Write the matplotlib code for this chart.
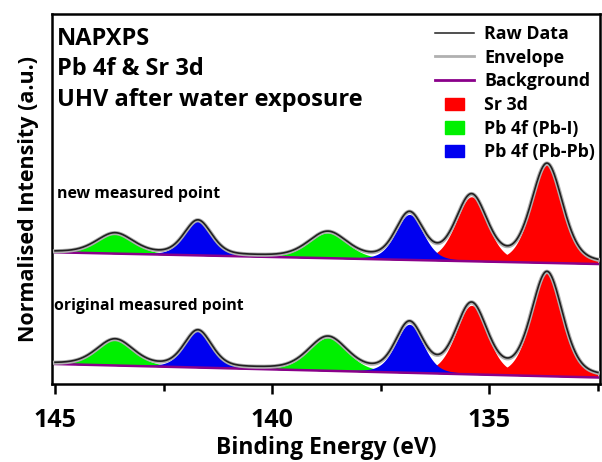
import numpy as np
import matplotlib
matplotlib.use("Agg")
import matplotlib.pyplot as plt
import matplotlib.patches as mpatches
from matplotlib.lines import Line2D
from matplotlib.legend_handler import HandlerPatch

plt.rcParams["font.family"] = ["Open Sans", "DejaVu Sans"]
plt.rcParams["font.weight"] = "bold"

# fitted components (binding energy in eV)
peak_names = ["Pb-I", "Pb-Pb", "Pb-I", "Pb-Pb", "Sr", "Sr"]
peak_centers = [143.62, 141.71, 138.72, 136.84, 135.41, 133.67]
peak_fwhm = [1.00, 0.75, 1.05, 0.75, 0.85, 0.85]
new_heights = [0.199, 0.343, 0.254, 0.455, 0.645, 0.98]
orig_heights = [0.257, 0.364, 0.330, 0.485, 0.69, 1.03]

# linear background end points at 145 eV and 132.5 eV
bg_ends_be = [145.0, 132.5]
new_bg = [1.317, 1.20]
orig_bg = [0.20, 0.065]

comp_colors = {"Sr": "#ff0000", "Pb-I": "#00f000", "Pb-Pb": "#0000f0"}
legend_names = {"Sr": "Sr 3d", "Pb-I": "Pb 4f (Pb-I)", "Pb-Pb": "Pb 4f (Pb-Pb)"}
draw_order = ["Sr", "Pb-I", "Pb-Pb"]

be = np.linspace(145.0, 132.5, 800)
GL_MIX = 0.3


def gl_peak(x, center, height, fwhm):
    """Gaussian-Lorentzian (GL30) line shape."""
    u = (x - center) / fwhm
    return height * ((1 - GL_MIX) * np.exp(-4 * np.log(2) * u ** 2) + GL_MIX / (1 + 4 * u ** 2))


def draw_spectrum(ax, heights, bg_pts):
    bg = np.interp(be, bg_ends_be[::-1], bg_pts[::-1])
    comps = [gl_peak(be, c, h, w) for c, h, w in zip(peak_centers, heights, peak_fwhm)]
    for kind in draw_order:
        for name, comp in zip(peak_names, comps):
            if name == kind:
                ax.fill_between(be, bg, bg + comp, color=comp_colors[kind], lw=0, zorder=2)
    envelope = bg + np.sum(comps, axis=0)
    ax.plot(be, bg, color="#8a008a", lw=1.8, zorder=3)
    ax.plot(be, envelope, color="#b0b0b0", lw=3.0, zorder=4)
    ax.plot(be, envelope + 0.004, color="#202020", lw=1.2, zorder=5)


fig = plt.figure(figsize=(6.02, 4.62), dpi=100)
ax = fig.add_axes([52 / 602, 1 - 384 / 462, 548 / 602, 370 / 462])

draw_spectrum(ax, orig_heights, orig_bg)
draw_spectrum(ax, new_heights, new_bg)

ax.set_xlim(145.07, 132.45)
ax.set_ylim(0, 3.70)
ax.set_yticks([])
ax.set_xticks([145, 140, 135])
ax.set_xticks([142.5, 137.5, 132.5], minor=True)
ax.tick_params(axis="x", which="major", direction="out", length=7, width=1.8,
               labelsize=18, pad=10)
ax.tick_params(axis="x", which="minor", direction="out", length=5, width=1.8)
for sp in ax.spines.values():
    sp.set_linewidth(1.8)

ax.set_xlabel("Binding Energy (eV)", fontsize=16.5, fontweight="bold")
ax.xaxis.set_label_coords(0.5, (384 - 454) / 370)
ax.xaxis.label.set_verticalalignment("baseline")
ax.set_ylabel("Normalised Intensity (a.u.)", fontsize=15.5, fontweight="bold", labelpad=9)

# annotations
def ax_y(py):
    return (384 - py) / 370

for txt, py in [("NAPXPS", 45), ("Pb 4f & Sr 3d", 75), ("UHV after water exposure", 106)]:
    ax.text(0.009, ax_y(py), txt, transform=ax.transAxes, fontsize=17,
            fontweight="bold", va="baseline", ha="left")
ax.text(0.009, ax_y(198), "new measured point", transform=ax.transAxes,
        fontsize=11.4, fontweight="bold", va="baseline", ha="left")
ax.text(0.004, ax_y(310), "original measured point", transform=ax.transAxes,
        fontsize=11.3, fontweight="bold", va="baseline", ha="left")

# legend
handles = [
    Line2D([], [], color="#202020", lw=1.1),
    Line2D([], [], color="#b0b0b0", lw=2.0),
    Line2D([], [], color="#8a008a", lw=2.0),
] + [mpatches.Patch(color=comp_colors[k]) for k in draw_order]
labels = ["Raw Data", "Envelope", "Background"] + [legend_names[k] for k in draw_order]


def small_box(legend, orig_handle, xdescent, ydescent, width, height, fontsize):
    return mpatches.Rectangle((-xdescent + width * 0.25, -ydescent), width * 0.5, height)


fig.legend(handles, labels, loc="upper left", bbox_to_anchor=(435 / 602, 1 - 25 / 462),
           frameon=False, fontsize=12.8, borderpad=0, borderaxespad=0,
           handlelength=2.2, handletextpad=0.55, labelspacing=0.32,
           handler_map={mpatches.Patch: HandlerPatch(patch_func=small_box)})

fig.savefig("out.png", dpi=100)
